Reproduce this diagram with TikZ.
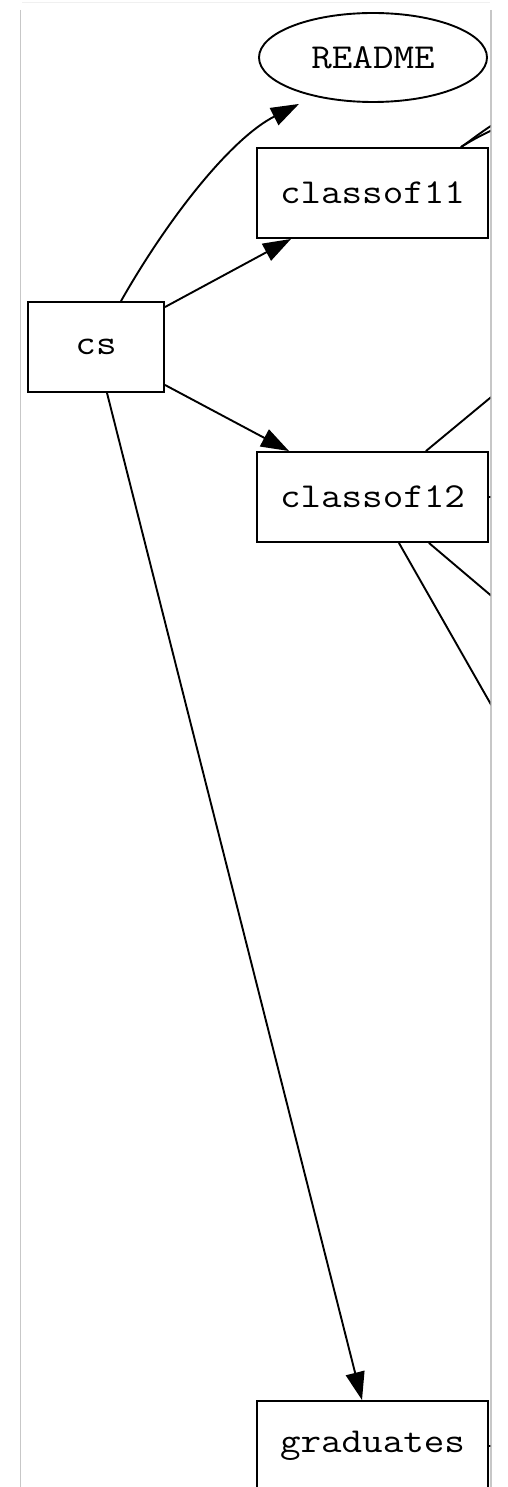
\documentclass[tikz,border=0pt]{standalone}
\usepackage{fontspec}
\usepackage{graphicx}
\usetikzlibrary{shapes.geometric,arrows.meta}
\newcommand{\lbltxt}[1]{\scalebox{1.14}[1]{#1}}
\tikzset{
  boxnode/.style={draw, line width=1.9pt, rectangle, inner sep=0pt, font=\ttfamily\fontsize{35}{40}\selectfont},
  ellnode/.style={draw, line width=1.9pt, ellipse, inner sep=0pt, font=\ttfamily\fontsize{35}{40}\selectfont},
  edge/.style={line width=1.9pt, -{Triangle[length=28pt,width=19pt]}},
  cut/.style={line width=1.9pt},
  frame/.style={line width=1.3pt, draw=black!22}
}
\begin{document}
\begin{tikzpicture}[x=1pt,y=-1pt]
\useasboundingbox (0,0) rectangle (507,1487);
% frame
\draw[line width=1pt, draw=black!6] (22,3) -- (490,3);
\draw[frame] (20.5,10) -- (20.5,1487);
\draw[frame] (491,10) -- (491,1487);
\begin{scope}
\clip (21.5,0) rectangle (490.3,1487);
\node[ellnode, minimum width=228pt, minimum height=89pt] (readme) at (373,57.5) {\lbltxt{README}};
\node[boxnode, minimum width=231pt, minimum height=90pt] (c11) at (372.5,193) {\lbltxt{classof11}};
\node[boxnode, minimum width=136pt, minimum height=90pt] (cs) at (96,347) {\lbltxt{cs}};
\node[boxnode, minimum width=231pt, minimum height=90pt] (c12) at (372.5,497) {\lbltxt{classof12}};
\node[boxnode, minimum width=231pt, minimum height=90pt] (grad) at (372.5,1446) {\lbltxt{graduates}};
% off-picture targets
\coordinate (o1) at (520,108);
\coordinate (o2) at (520,118);
\coordinate (o3) at (560,340);
\coordinate (o4) at (530,497);
\coordinate (o5) at (560,654);
\coordinate (o6) at (530,773);
\coordinate (o7) at (530,1446);
% edges
\draw[edge] ([xshift=25pt]cs.north) .. controls (170,215) and (232,138) .. ([xshift=-74pt,yshift=-1pt]readme.south);
\draw[edge] ([yshift=-6pt]cs.north east) -- ([xshift=35pt]c11.south west);
\draw[edge] ([yshift=8pt]cs.south east) -- ([xshift=33pt]c12.north west);
\draw[edge] ([xshift=11pt]cs.south) -- ([xshift=-10.5pt]grad.north);
\draw[cut] ([xshift=-28pt]c11.north east) .. controls (472,140) and (482,130) .. (o1);
\draw[cut] ([xshift=-28pt]c11.north east) .. controls (474,139) and (486,132) .. (o2);
\draw[cut] ([xshift=-63pt]c12.north east) -- (o3);
\draw[cut] (c12.east) -- (o4);
\draw[cut] ([xshift=-60pt]c12.south east) -- (o5);
\draw[cut] ([xshift=-90pt]c12.south east) -- (o6);
\draw[cut] (grad.east) -- (o7);
\end{scope}
\end{tikzpicture}
\end{document}
